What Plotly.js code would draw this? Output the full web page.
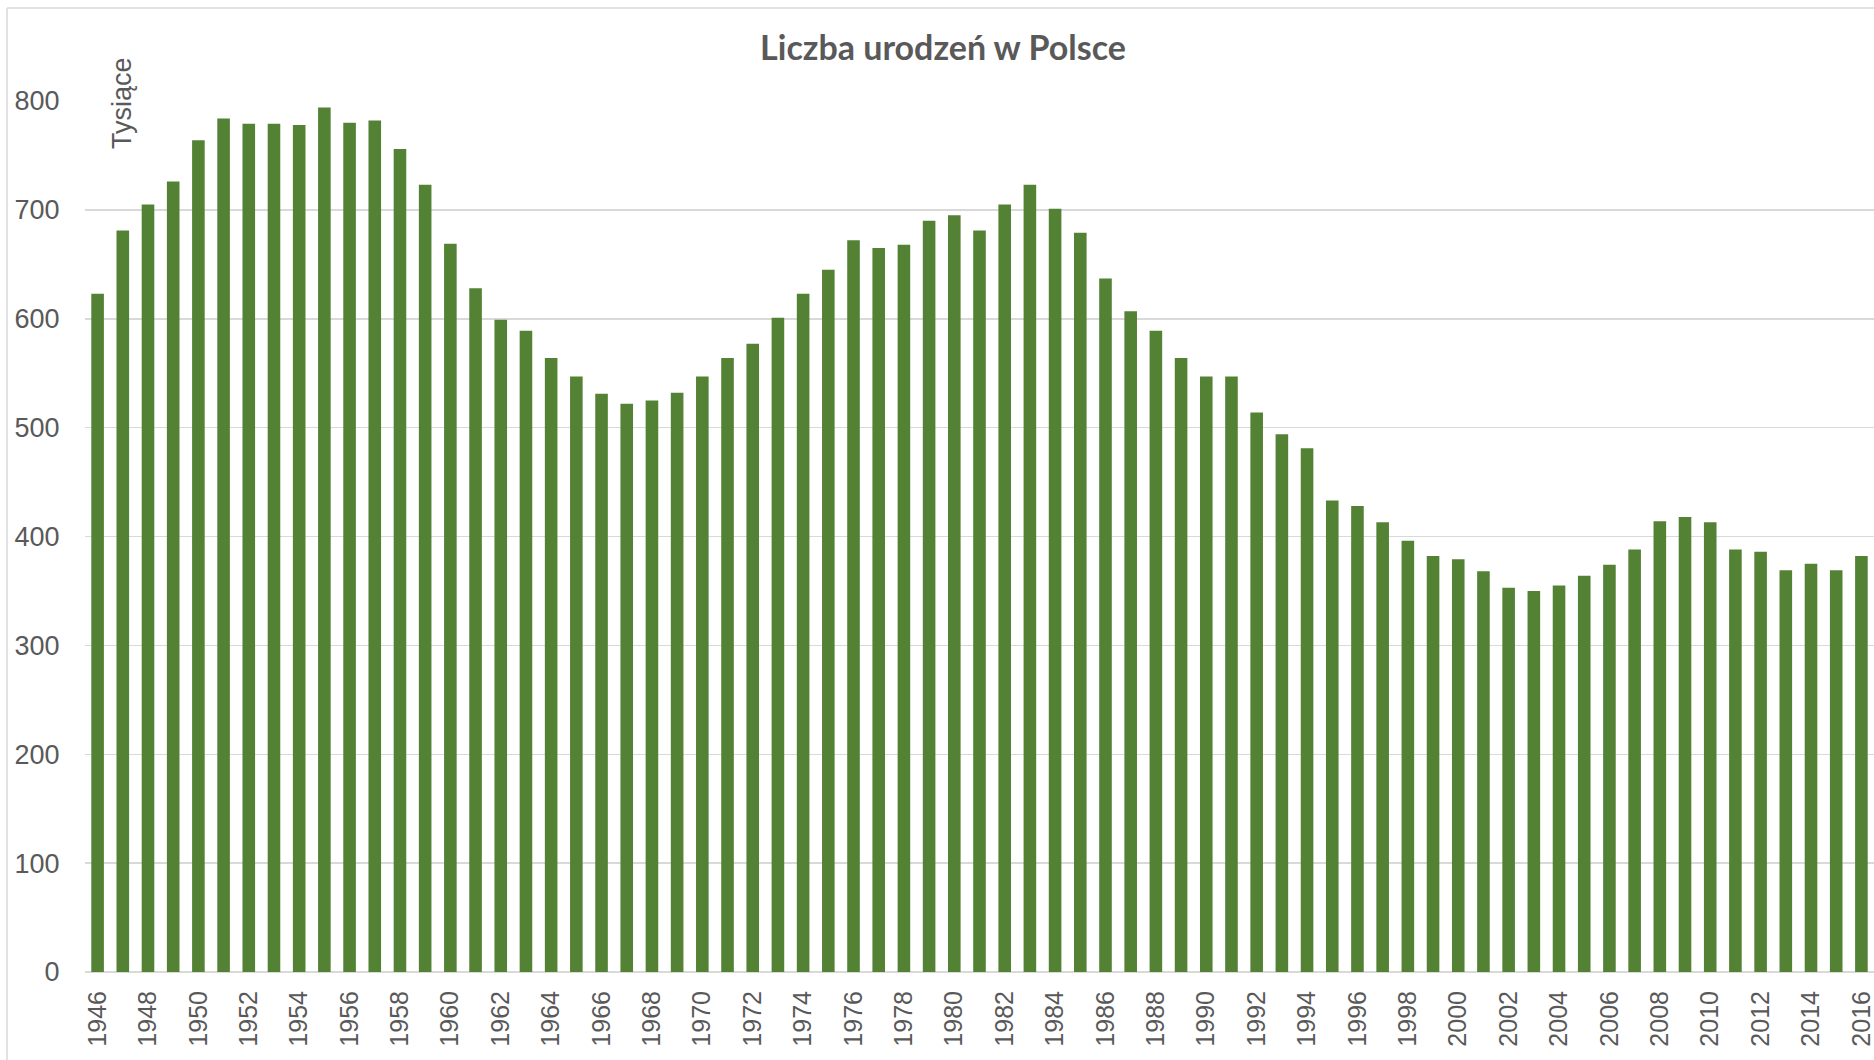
<!DOCTYPE html>
<html>
<head>
<meta charset="utf-8">
<script src="https://cdn.plot.ly/plotly-3.0.1.min.js"></script>
<style>
  html, body { margin: 0; padding: 0; background: #ffffff; overflow: hidden; }
  #chart { width: 1874px; height: 1060px; }
</style>
</head>
<body>
<div id="chart"></div>
<script>
// Years (categories)
const years = [
  1946, 1947, 1948, 1949, 1950, 1951, 1952, 1953, 1954, 1955,
  1956, 1957, 1958, 1959, 1960, 1961, 1962, 1963, 1964, 1965,
  1966, 1967, 1968, 1969, 1970, 1971, 1972, 1973, 1974, 1975,
  1976, 1977, 1978, 1979, 1980, 1981, 1982, 1983, 1984, 1985,
  1986, 1987, 1988, 1989, 1990, 1991, 1992, 1993, 1994, 1995,
  1996, 1997, 1998, 1999, 2000, 2001, 2002, 2003, 2004, 2005,
  2006, 2007, 2008, 2009, 2010, 2011, 2012, 2013, 2014, 2015,
  2016
];

// Births in Poland, thousands
const births = [
  623, 681, 705, 726, 764, 784, 779, 779, 778, 794,
  780, 782, 756, 723, 669, 628, 599, 589, 564, 547,
  531, 522, 525, 532, 547, 564, 577, 601, 623, 645,
  672, 665, 668, 690, 695, 681, 705, 723, 701, 679,
  637, 607, 589, 564, 547, 547, 514, 494, 481, 433,
  428, 413, 396, 382, 379, 368, 353, 350, 355, 364,
  374, 388, 414, 418, 413, 388, 386, 369, 375, 369,
  382
];

const yTicks = [0, 100, 200, 300, 400, 500, 600, 700, 800];

const titleText = 'Liczba urodzeń w Polsce';
const unitLabel = 'Tysiące';

const textColor = '#595959';
const gridColor = '#d9d9d9';
const barColor = '#548235';

const W = 1874, H = 1060;
const mL = 85, mR = 0, mT = 101, mB = 88;
const plotW = W - mL - mR, plotH = H - mT - mB;

const trace = {
  type: 'bar',
  x: years,
  y: births,
  marker: { color: barColor, line: { width: 0 } },
  hoverinfo: 'x+y'
};

const layout = {
  width: W,
  height: H,
  margin: { l: mL, r: mR, t: mT, b: mB, pad: 0 },
  paper_bgcolor: '#ffffff',
  plot_bgcolor: '#ffffff',
  bargap: 0.5,
  showlegend: false,
  title: {
    text: '<b>' + titleText + '</b>',
    font: { family: 'Lato, "Liberation Sans", sans-serif', size: 34, color: textColor },
    xref: 'container', x: 943 / W, xanchor: 'center',
    yref: 'container', y: 1 - 48 / H, yanchor: 'middle'
  },
  xaxis: {
    type: 'linear',
    range: [1945.5, 2016.5],
    tick0: 1946,
    dtick: 2,
    tickangle: -90,
    ticks: 'outside',
    ticklen: 8,
    tickcolor: 'rgba(0,0,0,0)',
    ticklabeloverflow: 'allow',
    tickfont: { family: '"Liberation Sans", Arial, sans-serif', size: 25, color: textColor },
    showgrid: false,
    zeroline: false,
    showline: false,
    fixedrange: true
  },
  yaxis: {
    range: [0, 800],
    tickvals: yTicks,
    ticktext: yTicks.map(String),
    ticks: 'outside',
    ticklen: 19,
    tickcolor: 'rgba(0,0,0,0)',
    ticklabeloverflow: 'allow',
    tickfont: { family: '"Liberation Sans", Arial, sans-serif', size: 27, color: textColor },
    showgrid: true,
    gridcolor: gridColor,
    gridwidth: 1.5,
    zeroline: true,
    zerolinecolor: gridColor,
    zerolinewidth: 1.5,
    showline: false,
    fixedrange: true
  },
  annotations: [{
    text: unitLabel,
    xref: 'paper', yref: 'paper',
    x: (122 - mL) / plotW,
    y: (972 - 103) / plotH,
    xanchor: 'center', yanchor: 'middle',
    textangle: -90,
    showarrow: false,
    font: { family: '"Liberation Sans", Arial, sans-serif', size: 27, color: textColor }
  }],
  shapes: [
    { type: 'line', xref: 'paper', yref: 'paper',
      x0: (7 - mL) / plotW, x1: (7 - mL) / plotW,
      y0: (972 - H) / plotH, y1: (972 - 8) / plotH,
      line: { color: gridColor, width: 1.5 } },
    { type: 'line', xref: 'paper', yref: 'paper',
      x0: (7 - mL) / plotW, x1: (W - mL) / plotW,
      y0: (972 - 8) / plotH, y1: (972 - 8) / plotH,
      line: { color: gridColor, width: 1.5 } }
  ]
};

Plotly.newPlot('chart', [trace], layout, { displayModeBar: false, staticPlot: true });
</script>
</body>
</html>
